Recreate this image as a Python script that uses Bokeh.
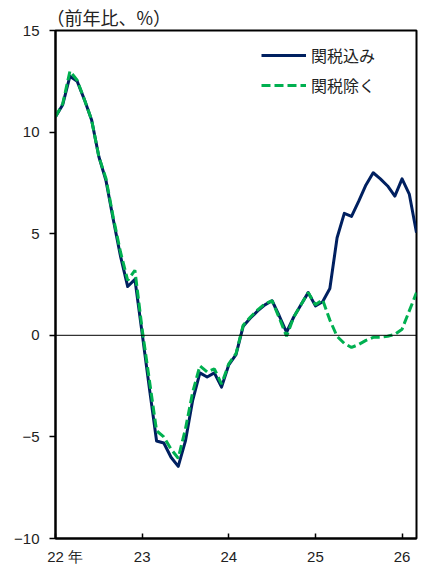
from bokeh.plotting import figure
from bokeh.models import Range1d, FixedTicker, Span, Legend, LegendItem
from bokeh.embed import file_html
from bokeh.resources import INLINE

# months since Jan 2022
months = list(range(51))

incl_tariff = [10.75, 11.35, 12.75, 12.5, 11.6, 10.6, 8.8, 7.6, 5.7, 3.9,
               2.4, 2.75, 0.1, -2.6, -5.2, -5.3, -6.0, -6.45, -5.2, -3.2,
               -1.85, -2.05, -1.85, -2.55, -1.45, -0.95, 0.45, 0.85, 1.2, 1.5,
               1.7, 0.95, 0.15, 0.9, 1.5, 2.1, 1.45, 1.65, 2.3, 4.8,
               6.0, 5.85, 6.6, 7.4, 8.0, 7.7, 7.35, 6.85, 7.7, 6.95,
               5.05]

excl_tariff = [10.75, 11.4, 13.0, 12.55, 11.6, 10.6, 8.8, 7.7, 5.8, 4.1,
               2.7, 3.2, 0.3, -2.2, -4.7, -5.0, -5.6, -6.05, -4.6, -2.8,
               -1.5, -1.8, -1.65, -2.4, -1.4, -0.9, 0.5, 0.9, 1.25, 1.55,
               1.7, 0.85, -0.05, 0.9, 1.5, 2.1, 1.5, 1.75, 0.75, -0.05,
               -0.4, -0.6, -0.45, -0.25, -0.1, -0.1, -0.05, 0.05, 0.3, 1.2,
               2.1]

x_tick_pos = [0, 12, 24, 36, 48]
x_tick_labels = ["\u3000 22 年", "23", "24", "25", "26"]
y_ticks = [-10, -5, 0, 5, 10, 15]

series_names = ["関税込み", "関税除く"]

NAVY = "#002060"
GREEN = "#00B050"
NUM_FONT = "Liberation Sans"
CJK_FONT = "Noto Sans CJK JP"

p = figure(width=423, height=567, output_backend="svg", toolbar_location=None,
           x_range=Range1d(0, 50), y_range=Range1d(-10, 15),
           min_border_left=55, min_border_right=7, min_border_top=30, min_border_bottom=28)

p.title.text = "（前年比、%）"
p.title.text_font = CJK_FONT
p.title.text_font_size = "18px"
p.title.text_font_style = "normal"
p.title.text_color = "#222222"
p.title.align = "left"
p.title.offset = -9
p.title.standoff = 2

p.xgrid.visible = False
p.ygrid.visible = False
p.outline_line_color = "black"
p.outline_line_width = 2
p.outline_line_alpha = 1.0

p.add_layout(Span(location=0, dimension="width", line_color="black", line_width=1))

r1 = p.line(months, incl_tariff, line_color=NAVY, line_width=3, line_join="round")
r2 = p.line(months, excl_tariff, line_color=GREEN, line_width=3, line_dash="9 4")

# axes
p.xaxis.ticker = FixedTicker(ticks=x_tick_pos)
p.xaxis.major_label_overrides = dict(zip(x_tick_pos, x_tick_labels))
p.xaxis.major_tick_in = 5
p.xaxis.major_tick_out = 0
p.xaxis.minor_tick_line_color = None
p.xaxis.axis_line_width = 2
p.xaxis.major_tick_line_width = 1.5
p.xaxis.major_label_text_font = NUM_FONT
p.xaxis.major_label_text_font_size = "15px"
p.xaxis.major_label_text_color = "#222222"
p.xaxis.major_label_standoff = 9

p.yaxis.ticker = FixedTicker(ticks=y_ticks)
p.yaxis.major_tick_in = 0
p.yaxis.major_tick_out = 6
p.yaxis.minor_tick_line_color = None
p.yaxis.axis_line_width = 2
p.yaxis.major_tick_line_width = 1.5
p.yaxis.major_label_text_font = NUM_FONT
p.yaxis.major_label_text_font_size = "15px"
p.yaxis.major_label_text_color = "#222222"
p.yaxis.major_label_standoff = 10

legend = Legend(items=[LegendItem(label=series_names[0], renderers=[r1]),
                       LegendItem(label=series_names[1], renderers=[r2])],
                location=(206, 441), padding=10, spacing=6,
                glyph_width=45, glyph_height=20, label_standoff=5,
                label_text_font=CJK_FONT, label_text_font_size="16px",
                label_text_color="#222222",
                background_fill_alpha=0, border_line_color=None)
p.add_layout(legend)

open("out.html", "w").write(file_html(p, INLINE))
